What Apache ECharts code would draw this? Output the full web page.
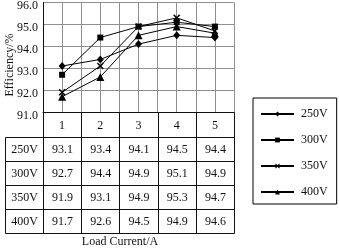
<!DOCTYPE html>
<html>
<head>
<meta charset="utf-8">
<script src="https://cdn.jsdelivr.net/npm/echarts@6/dist/echarts.min.js"></script>
<style>
html,body{margin:0;padding:0;background:#fff;}
#c{width:339px;height:249px;}
</style>
</head>
<body>
<div id="c"></div>
<script>
// ---- data ----
var categories = [1, 2, 3, 4, 5];
var seriesNames = ['250V', '300V', '350V', '400V'];
var v250 = [93.1, 93.4, 94.1, 94.5, 94.4];
var v300 = [92.7, 94.4, 94.9, 95.1, 94.9];
var v350 = [91.9, 93.1, 94.9, 95.3, 94.7];
var v400 = [91.7, 92.6, 94.5, 94.9, 94.6];
var yTicks = [91, 92, 93, 94, 95, 96];
var yName = 'Efficiency/%';
var xName = 'Load Current/A';

var allValues = [v250, v300, v350, v400];
var symbols = [
  'diamond',
  'rect',
  'path://M0,1.5L1.5,0L5,3.5L8.5,0L10,1.5L6.5,5L10,8.5L8.5,10L5,6.5L1.5,10L0,8.5L3.5,5Z',
  'triangle'
];
var symbolSizes = [[7, 8], 6, 7, 8];

var FONT = '"Liberation Serif", "Times New Roman", serif';
var INK = '#111';
var GRIDC = '#8f8f8f';

var chart = echarts.init(document.getElementById('c'));

var series = seriesNames.map(function (n, k) {
  return {
    name: n,
    type: 'line',
    data: categories.map(function (c, i) { return [c, allValues[k][i]]; }),
    symbol: symbols[k],
    symbolSize: symbolSizes[k],
    showAllSymbol: true,
    lineStyle: { color: '#000', width: 1 },
    itemStyle: { color: '#000' },
    animation: false
  };
});

var option = {
  animation: false,
  textStyle: { fontFamily: FONT, color: INK },
  grid: { left: 43, right: 105, top: 0, bottom: 137, containLabel: false },
  xAxis: {
    type: 'value',
    min: 0.5, max: 5.5, interval: 0.5,
    axisLine: { show: true, lineStyle: { color: INK, width: 1 } },
    axisTick: { show: false },
    splitLine: { show: true, lineStyle: { color: GRIDC, width: 1 } },
    axisLabel: {
      margin: 8,
      fontFamily: FONT, fontSize: 12, color: INK,
      formatter: function (v) { return Number.isInteger(v) ? String(v) : ''; }
    }
  },
  yAxis: {
    type: 'value',
    min: yTicks[0], max: yTicks[yTicks.length - 1], interval: 1,
    axisLine: { show: true, lineStyle: { color: INK, width: 1 } },
    axisTick: { show: false },
    splitLine: { show: true, lineStyle: { color: GRIDC, width: 1 } },
    axisLabel: {
      margin: 5,
      fontFamily: FONT, fontSize: 12, color: INK,
      verticalAlign: 'top', lineHeight: 7,
      formatter: function (v) { return v.toFixed(1); }
    }
  },
  legend: {
    orient: 'vertical',
    left: 253, top: 98,
    data: seriesNames,
    itemWidth: 33, itemHeight: 6,
    itemGap: 12,
    padding: [9, 9, 5, 7],
    borderColor: '#000', borderWidth: 1,
    textStyle: { fontFamily: FONT, fontSize: 12, color: INK, lineHeight: 14, padding: [0, 0, 0, 2] }
  },
  series: series
};
chart.setOption(option);

// ---- table under the plot, built from the data arrays ----
function px(x) { return chart.convertToPixel({ xAxisIndex: 0 }, x); }
function py(y) { return chart.convertToPixel({ yAxisIndex: 0 }, y); }
var crisp = function (v) { return Math.round(v) + 0.5; };

var tableTop = py(yTicks[0]);
var headerH = 25, rowH = 24;
var labelLeft = 5;
var bounds = [];
for (var i = 0; i <= categories.length; i++) bounds.push(px(categories[0] - 0.5 + i));
var plotLeft = bounds[0], plotRight = bounds[bounds.length - 1];
var rowTops = [];
for (var r = 0; r <= seriesNames.length; r++) rowTops.push(tableTop + headerH + r * rowH);
var tableBottom = rowTops[rowTops.length - 1];

var els = [];
function line(x1, y1, x2, y2) {
  els.push({ type: 'line', silent: true, z: 100,
    shape: { x1: x1, y1: y1, x2: x2, y2: y2 },
    style: { stroke: INK, lineWidth: 1 } });
}
function text(t, x, y, rot) {
  els.push({ type: 'text', silent: true, z: 100, x: x, y: y, rotation: rot || 0,
    style: { text: t, x: 0, y: 0, align: 'center', verticalAlign: 'middle',
      font: '12px ' + FONT, fill: INK } });
}
// horizontal lines
line(crisp(plotLeft), crisp(tableTop), crisp(plotRight), crisp(tableTop));
rowTops.forEach(function (y) { line(crisp(labelLeft), crisp(y), crisp(plotRight), crisp(y)); });
// vertical lines
line(crisp(labelLeft), crisp(rowTops[0]), crisp(labelLeft), crisp(tableBottom));
bounds.forEach(function (x) { line(crisp(x), crisp(tableTop), crisp(x), crisp(tableBottom)); });
// cells
seriesNames.forEach(function (n, k) {
  var cy = rowTops[k] + rowH / 2 + 0.5;
  text(n, (labelLeft + plotLeft) / 2 + 0.5, cy);
  categories.forEach(function (c, i) {
    text(allValues[k][i].toFixed(1), px(c) + 0.5, cy);
  });
});
// axis titles
text(xName, 120, 242);
text(yName, 10, 65, Math.PI / 2);

chart.setOption({ graphic: { elements: els } });
</script>
</body>
</html>
